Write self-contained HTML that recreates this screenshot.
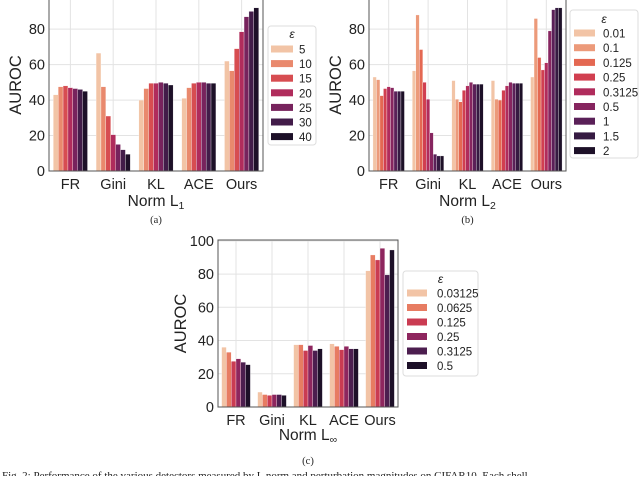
<!DOCTYPE html>
<html><head><meta charset="utf-8"><style>
body{margin:0;background:#fff;width:640px;height:476px;overflow:hidden;font-family:"Liberation Sans",sans-serif}
svg text{font-family:"Liberation Sans",sans-serif}
.cap{font-family:"Liberation Serif",serif}
</style></head><body>
<svg id="fig" width="640" height="476" viewBox="0 0 640 476"></svg>
<script>
const categories = ["FR","Gini","KL","ACE","Ours"];
const yTicksAB = [0,20,40,60,80];
const yTicksC = [0,20,40,60,80,100];
const epsA = ["5","10","15","20","25","30","40"];
const valuesA = [
 [43,66.5,40,41,62],
 [47.5,47.5,46.5,47,56.5],
 [48,31,49.5,49.5,69],
 [47,20.5,49.5,50,78.5],
 [46.5,15,50,50,87],
 [46,12,49.5,49.5,90],
 [45,9.5,48.5,49.5,92]
];
const epsB = ["0.01","0.1","0.125","0.25","0.3125","0.5","1","1.5","2"];
const valuesB = [
 [53,56.5,51,51,53],
 [51.5,88,40.5,40.5,86],
 [42.5,68.5,39,40,64],
 [46.5,50,45.5,45.5,57],
 [47.5,40.5,48,48,61],
 [47,21.5,50,50,79],
 [45,9.5,49,49.5,91],
 [45,8.5,49,49.5,92],
 [45,8.5,49,49.5,92]
];
const epsC = ["0.03125","0.0625","0.125","0.25","0.3125","0.5"];
const valuesC = [
 [36,9,37.5,38,82],
 [33,7.5,37.5,36.5,91.5],
 [27.5,7,34,34.5,88.5],
 [29,7.5,37,36.5,95.5],
 [27,7.5,34,35,79.5],
 [25.5,7,35,35,94.5]
];

const NS="http://www.w3.org/2000/svg";
const svg=document.getElementById('fig');
function mk(tag,attrs,parent){const e=document.createElementNS(NS,tag);for(const k in attrs)e.setAttribute(k,attrs[k]);(parent||svg).appendChild(e);return e;}
const stops=["#f2c4a6","#ec9a7a","#e46852","#d13f50","#b02c5c","#86255f","#5a2058","#361a42","#1d1028"];
function hex(h){return [1,3,5].map(i=>parseInt(h.substr(i,2),16));}
function color(t){const p=t*(stops.length-1);const i=Math.min(Math.floor(p),stops.length-2);const f=p-i;const a=hex(stops[i]),b=hex(stops[i+1]);return 'rgb('+a.map((v,k)=>Math.round(v+(b[k]-v)*f)).join(',')+')';}

function panel(o){
 const g=mk('g',{});
 
 
 const yScale=v=>o.bottom-(v/o.ymax)*(o.bottom-o.top);
 const step=(o.right-o.left)/categories.length;
 const xCenter=i=>o.left+step*(i+0.5);
 mk('rect',{x:o.left,y:o.top,width:o.right-o.left,height:o.bottom-o.top,fill:'#fff'},g);
 o.ticks.forEach(t=>{
  const y=yScale(t);
  const l=mk('line',{x1:o.left,x2:o.right,y1:y,y2:y,stroke:'#e3e3e3','stroke-width':1},g);
  
  
  const tx=mk('text',{x:o.left-4,y:y+5,'text-anchor':'end','font-size':14.5,fill:'#222'},g);
  tx.textContent=t;
  
  
 });
 categories.forEach((c,i)=>{
  const x=xCenter(i);
  mk('line',{x1:x,x2:x,y1:o.top,y2:o.bottom,stroke:'#e3e3e3','stroke-width':1},g);
  const tx=mk('text',{x:x,y:o.bottom+18,'text-anchor':'middle','font-size':14.5,fill:'#222'},g);
  tx.textContent=c;
  
  
 });
 const n=o.values.length, gw=step*0.8, bw=gw/n;
 o.values.forEach((ser,s)=>{
  const col=color(n===1?0:s/(n-1));
  ser.forEach((v,i)=>{
   const x=xCenter(i)-gw/2+s*bw, y=yScale(v);
   const r=mk('rect',{x:x,y:y,width:bw,height:o.bottom-y,fill:col,stroke:'#fff','stroke-width':0.3},g);
   
   
  });
 });
 mk('rect',{x:o.left,y:o.top,width:o.right-o.left,height:o.bottom-o.top,fill:'none',stroke:'#555','stroke-width':1},g);
 const yl=mk('text',{x:o.ylx,y:(o.top+o.bottom)/2,'text-anchor':'middle','font-size':16.5,fill:'#222',transform:'rotate(-90 '+o.ylx+' '+((o.top+o.bottom)/2)+')'},g);
 yl.textContent='AUROC';
 
 
 const xl=mk('text',{x:(o.left+o.right)/2,y:o.xly,'text-anchor':'middle','font-size':15.5,fill:'#222'},g);
 xl.innerHTML='Norm L<tspan font-size="10.5" dy="3">'+o.sub+'</tspan>';
 
 
 const pl=mk('text',{x:(o.left+o.right)/2,y:o.ply,'text-anchor':'middle','font-size':10.5,fill:'#222',class:'cap'},g);
 pl.textContent=o.label;
 
 
 const L=o.leg;
 const lg=mk('g',{},g);
 
 
 mk('rect',{x:L.x,y:L.y,width:L.w,height:L.h,rx:3,fill:'#fff',stroke:'#ddd','stroke-width':1},lg);
 const tt=mk('text',{x:L.x+L.w/2,y:L.ty,'text-anchor':'middle','font-size':12,'font-style':'italic',fill:'#222'},lg);
 tt.textContent='ε';
 o.eps.forEach((e,s)=>{
  const y=L.ey+s*L.step;
  const sw=mk('rect',{x:L.sx,y:y-3.5,width:L.sw,height:7,fill:color(n===1?0:s/(n-1))},lg);
  
  
  const t=mk('text',{x:L.tx,y:y+4.5,'font-size':11.5,fill:'#222'},lg);
  t.textContent=e;
  
  
 });
}

panel({name:'chart-norm-l1',left:49,right:263,top:-1,bottom:171,ymax:97,ticks:yTicksAB,values:valuesA,eps:epsA,ylx:21,xly:206,ply:223,sub:'1',label:'(a)',
 leg:{x:268,y:26,w:48,h:119,ty:38,ey:49,step:14.6,sx:271,sw:22,tx:299}});
panel({name:'chart-norm-l2',left:369,right:566,top:-1,bottom:171,ymax:97,ticks:yTicksAB,values:valuesB,eps:epsB,ylx:341,xly:206,ply:223,sub:'2',label:'(b)',
 leg:{x:570,y:10,w:68,h:148,ty:23,ey:33,step:14.7,sx:574,sw:21,tx:603}});
panel({name:'chart-norm-linf',left:218,right:398,top:240,bottom:407,ymax:100.5,ticks:yTicksC,values:valuesC,eps:epsC,ylx:186,xly:440,ply:464,sub:'∞',label:'(c)',
 leg:{x:403,y:271,w:75,h:105,ty:283,ey:293,step:14.5,sx:407,sw:20,tx:437}});

const cap=mk('text',{x:2,y:479,'font-size':11,fill:'#222',class:'cap'});
cap.textContent='Fig. 2: Performance of the various detectors measured by L    norm and perturbation magnitudes on CIFAR10. Each shell';


</script>
</body></html>
